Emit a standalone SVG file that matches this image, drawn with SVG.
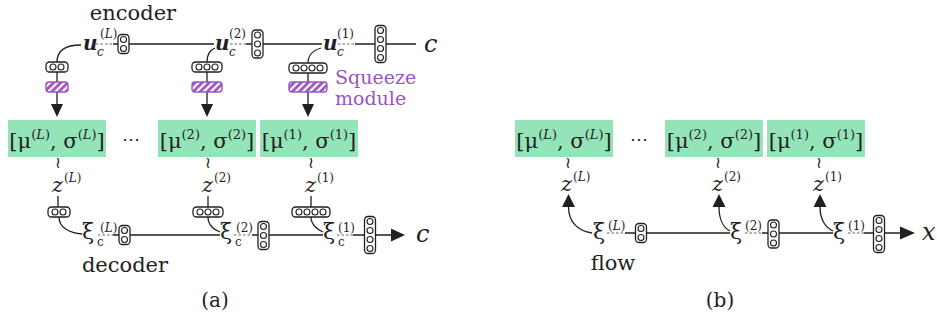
<svg xmlns="http://www.w3.org/2000/svg" width="937" height="322" viewBox="0 0 937 322">
  <style>
    .cap rect { fill: #fff; stroke: #231f20; stroke-width: 1.3; }
    .cap circle { fill: #fff; stroke: #231f20; stroke-width: 1.1; }
    .ln { stroke: #231f20; stroke-width: 1.3; fill: none; }
    .dl { stroke: #666; stroke-width: 1; stroke-dasharray: 2.5 2; fill: none; }
    .head { fill: #231f20; }
    .box { fill: #94e4ba; }
    .sq { fill: url(#hatch); stroke: #9a55be; stroke-width: 1.4; }
    text { font-family: "DejaVu Serif", "Liberation Serif", serif; fill: #231f20; }
    .lbl { font-size: 21px; }
    .mt { font-size: 21px; }
    .sup { font-size: 13px; }
    .scr { font-size: 12px; }
    .it { font-style: italic; }
    .u { font-size: 20px; font-style: italic; font-weight: bold; }
    .xi { font-size: 22px; }
    .z { font-size: 21px; font-style: italic; }
    .til { font-size: 16px; font-family: "DejaVu Sans", sans-serif; }
    .purple { fill: #9a55be; font-size: 19px; }
  </style>
  <defs>
    <pattern id="hatch" patternUnits="userSpaceOnUse" width="5" height="5" patternTransform="rotate(45)">
      <rect width="5" height="5" fill="#fff"/>
      <line x1="1.4" y1="0" x2="1.4" y2="5" stroke="#9a55be" stroke-width="2.8"/>
    </pattern>
    <!-- vertical cell stacks -->
    <g id="c2v" class="cap"><rect x="-5.5" y="-9.5" width="11" height="19" rx="3.5"/><circle cy="-4.5" r="3"/><circle cy="4.5" r="3"/></g>
    <g id="c3v" class="cap"><rect x="-5.5" y="-14" width="11" height="28" rx="3.5"/><circle cy="-9" r="3"/><circle r="3"/><circle cy="9" r="3"/></g>
    <g id="c4v" class="cap"><rect x="-5.5" y="-18.5" width="11" height="37" rx="3.5"/><circle cy="-13.5" r="3"/><circle cy="-4.5" r="3"/><circle cy="4.5" r="3"/><circle cy="13.5" r="3"/></g>
    <!-- horizontal cell stacks -->
    <g id="c2h" class="cap"><rect x="-11" y="-5" width="22" height="10" rx="3.5"/><circle cx="-4" r="3"/><circle cx="4" r="3"/></g>
    <g id="c3h" class="cap"><rect x="-15" y="-5" width="30" height="10" rx="3.5"/><circle cx="-8" r="3"/><circle r="3"/><circle cx="8" r="3"/></g>
    <g id="c4h" class="cap"><rect x="-19" y="-5" width="38" height="10" rx="3.5"/><circle cx="-12" r="3"/><circle cx="-4" r="3"/><circle cx="4" r="3"/><circle cx="12" r="3"/></g>
  </defs>

  <!-- connectors -->
  <g id="connectors">
    <!-- (a) encoder chain -->
    <path class="dl" d="M96,44 H113 M230,44 H246 M338,44 H355"/>
    <path class="ln" d="M113,44 H118 M129,44 H214 M246,44 H252 M263,44 H322 M355,44 H375 M386,44 H416"/>
    <path class="ln" d="M57,62 C57,50 66,45 81,45 M207,62 C207,55 210,50 215,48 M308,63 C308,55 314,50 321,48"/>
    <path class="ln" d="M57,72 V104 M207,72 V104 M308,73 V104"/>
    <path class="head" d="M51,104 H63 L57,117 Z M201,104 H213 L207,117 Z M302,104 H314 L308,117 Z"/>
    <!-- (a) z to decoder -->
    <path class="ln" d="M58,196 V207 M208,196 V207 M311,196 V207"/>
    <path class="ln" d="M59,217 C59,228 70,233 82,234 M208,217 C208,225 214,230 220,232 M311,217 C311,225 318,230 323,232"/>
    <path class="dl" d="M98,235 H113 M234,235 H252 M337,235 H353"/>
    <path class="ln" d="M113,235 H119 M130,235 H220 M252,235 H258 M269,235 H323 M353,235 H364.5 M375.5,235 H391"/>
    <path class="head" d="M391,228.5 V241.5 L405,235 Z"/>
    <!-- (b) flow -->
    <path class="ln" d="M568.5,207 C568.5,222 578,231 592,233 M719,207 C719,220 724,228 730,231 M820,207 C820,220 826,228 833,231"/>
    <path class="head" d="M562,207 H575 L568.5,194 Z M712.5,207 H725.5 L719,194 Z M813.5,207 H826.5 L820,194 Z"/>
    <path class="dl" d="M607,233 H625 M745,233 H762 M848,233 H864"/>
    <path class="ln" d="M625,233 H635.5 M646.5,233 H730 M762,233 H768 M779,233 H833 M864,233 H873.5 M884.5,233 H900"/>
    <path class="head" d="M900,226.5 V239.5 L915,233 Z"/>
  </g>

  <!-- (a) encoder -->
  <g id="encoder-label"><text class="lbl" x="133" y="20" text-anchor="middle">encoder</text></g>
  <g id="uL">
    <text class="u" x="83" y="50">u</text>
    <text class="scr it" x="97" y="56">c</text>
    <text class="scr" x="100" y="38">(<tspan class="it">L</tspan>)</text>
  </g>
  <g id="encL"><use href="#c2v" x="123.5" y="44"/></g>
  <g id="u2">
    <text class="u" x="215" y="50">u</text>
    <text class="scr it" x="229" y="56">c</text>
    <text class="scr" x="229" y="38">(2)</text>
  </g>
  <g id="enc2"><use href="#c3v" x="257.5" y="44"/></g>
  <g id="u1">
    <text class="u" x="323" y="50">u</text>
    <text class="scr it" x="337" y="56">c</text>
    <text class="scr" x="337" y="38">(1)</text>
  </g>
  <g id="enc1"><use href="#c4v" x="380.5" y="44"/></g>
  <g id="c-in"><text class="it" x="424" y="52" font-size="24">c</text></g>

  <g id="squeezeL"><use href="#c2h" x="57" y="67"/><rect class="sq" x="46" y="82" width="22" height="10" rx="3"/></g>
  <g id="squeeze2"><use href="#c3h" x="207" y="67"/><rect class="sq" x="192" y="82" width="30" height="10" rx="3"/></g>
  <g id="squeeze1"><use href="#c4h" x="308" y="68"/><rect class="sq" x="289" y="82" width="38" height="10" rx="3"/></g>
  <g id="squeeze-label">
    <text class="purple" x="335" y="84">Squeeze</text>
    <text class="purple" x="335" y="105">module</text>
  </g>

  <!-- (a) latent parameters -->
  <g id="a-paramL">
    <rect class="box" x="8" y="120" width="98" height="37"/>
    <text class="mt" x="57" y="148" text-anchor="middle">[μ<tspan class="sup" dy="-9">(<tspan class="it">L</tspan>)</tspan><tspan dy="9">, σ</tspan><tspan class="sup" dy="-9">(<tspan class="it">L</tspan>)</tspan><tspan dy="9">]</tspan></text>
  </g>
  <g id="a-dots"><text x="131" y="145" font-size="18" text-anchor="middle" font-family="DejaVu Sans, sans-serif">⋯</text></g>
  <g id="a-param2">
    <rect class="box" x="158" y="120" width="98" height="37"/>
    <text class="mt" x="207" y="148" text-anchor="middle">[μ<tspan class="sup" dy="-9">(2)</tspan><tspan dy="9">, σ</tspan><tspan class="sup" dy="-9">(2)</tspan><tspan dy="9">]</tspan></text>
  </g>
  <g id="a-param1">
    <rect class="box" x="260" y="120" width="98" height="37"/>
    <text class="mt" x="309" y="148" text-anchor="middle">[μ<tspan class="sup" dy="-9">(1)</tspan><tspan dy="9">, σ</tspan><tspan class="sup" dy="-9">(1)</tspan><tspan dy="9">]</tspan></text>
  </g>

  <g id="a-zL">
    <text class="til" x="58" y="168" text-anchor="middle">≀</text>
    <text class="z" x="52" y="192">z</text><text class="scr" x="64" y="182">(<tspan class="it">L</tspan>)</text>
  </g>
  <g id="a-z2">
    <text class="til" x="208" y="168" text-anchor="middle">≀</text>
    <text class="z" x="202" y="192">z</text><text class="scr" x="214" y="182">(2)</text>
  </g>
  <g id="a-z1">
    <text class="til" x="311" y="168" text-anchor="middle">≀</text>
    <text class="z" x="305" y="192">z</text><text class="scr" x="317" y="182">(1)</text>
  </g>

  <!-- (a) decoder -->
  <g id="decL-in"><use href="#c2h" x="59" y="212"/></g>
  <g id="dec2-in"><use href="#c3h" x="208" y="212"/></g>
  <g id="dec1-in"><use href="#c4h" x="311" y="212"/></g>
  <g id="xicL">
    <text class="xi" x="82" y="239">ξ</text>
    <text class="scr" x="97" y="246">c</text>
    <text class="scr" x="100" y="232">(<tspan class="it">L</tspan>)</text>
  </g>
  <g id="decL"><use href="#c2v" x="124.5" y="235"/></g>
  <g id="xic2">
    <text class="xi" x="220" y="239">ξ</text>
    <text class="scr" x="235" y="246">c</text>
    <text class="scr" x="236" y="232">(2)</text>
  </g>
  <g id="dec2"><use href="#c3v" x="263.5" y="235.5"/></g>
  <g id="xic1">
    <text class="xi" x="323" y="239">ξ</text>
    <text class="scr" x="338" y="246">c</text>
    <text class="scr" x="338" y="232">(1)</text>
  </g>
  <g id="dec1"><use href="#c4v" x="370" y="235"/></g>
  <g id="c-out"><text class="it" x="416" y="242" font-size="24">c</text></g>
  <g id="decoder-label"><text class="lbl" x="125" y="272" text-anchor="middle">decoder</text></g>
  <g id="caption-a"><text x="215" y="307" font-size="20" text-anchor="middle">(a)</text></g>

  <!-- (b) latent parameters -->
  <g id="b-paramL">
    <rect class="box" x="515" y="120" width="98" height="37"/>
    <text class="mt" x="564" y="148" text-anchor="middle">[μ<tspan class="sup" dy="-9">(<tspan class="it">L</tspan>)</tspan><tspan dy="9">, σ</tspan><tspan class="sup" dy="-9">(<tspan class="it">L</tspan>)</tspan><tspan dy="9">]</tspan></text>
  </g>
  <g id="b-dots"><text x="639" y="145" font-size="18" text-anchor="middle" font-family="DejaVu Sans, sans-serif">⋯</text></g>
  <g id="b-param2">
    <rect class="box" x="665" y="120" width="98" height="37"/>
    <text class="mt" x="714" y="148" text-anchor="middle">[μ<tspan class="sup" dy="-9">(2)</tspan><tspan dy="9">, σ</tspan><tspan class="sup" dy="-9">(2)</tspan><tspan dy="9">]</tspan></text>
  </g>
  <g id="b-param1">
    <rect class="box" x="767" y="120" width="98" height="37"/>
    <text class="mt" x="816" y="148" text-anchor="middle">[μ<tspan class="sup" dy="-9">(1)</tspan><tspan dy="9">, σ</tspan><tspan class="sup" dy="-9">(1)</tspan><tspan dy="9">]</tspan></text>
  </g>

  <g id="b-zL">
    <text class="til" x="568" y="168" text-anchor="middle">≀</text>
    <text class="z" x="561" y="191">z</text><text class="scr" x="573" y="181">(<tspan class="it">L</tspan>)</text>
  </g>
  <g id="b-z2">
    <text class="til" x="718" y="168" text-anchor="middle">≀</text>
    <text class="z" x="712" y="191">z</text><text class="scr" x="724" y="181">(2)</text>
  </g>
  <g id="b-z1">
    <text class="til" x="819" y="168" text-anchor="middle">≀</text>
    <text class="z" x="813" y="191">z</text><text class="scr" x="825" y="181">(1)</text>
  </g>

  <!-- (b) flow -->
  <g id="xiL">
    <text class="xi" x="593" y="239">ξ</text>
    <text class="scr" x="608" y="230">(<tspan class="it">L</tspan>)</text>
  </g>
  <g id="flowL"><use href="#c2v" x="641" y="233"/></g>
  <g id="xi2">
    <text class="xi" x="730" y="239">ξ</text>
    <text class="scr" x="745" y="230">(2)</text>
  </g>
  <g id="flow2"><use href="#c3v" x="773.5" y="234"/></g>
  <g id="xi1">
    <text class="xi" x="833" y="239">ξ</text>
    <text class="scr" x="848" y="230">(1)</text>
  </g>
  <g id="flow1"><use href="#c4v" x="879" y="234"/></g>
  <g id="x-out"><text class="it" x="922" y="240" font-size="24">x</text></g>
  <g id="flow-label"><text class="lbl" x="613" y="270" text-anchor="middle">flow</text></g>
  <g id="caption-b"><text x="720" y="307" font-size="20" text-anchor="middle">(b)</text></g>
</svg>
